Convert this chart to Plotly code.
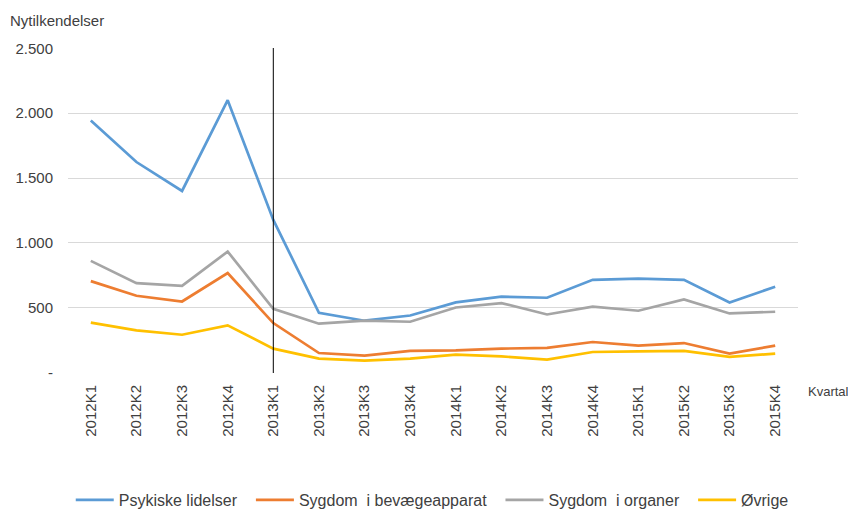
import plotly.graph_objects as go

kvartaler = ["2012K1", "2012K2", "2012K3", "2012K4",
             "2013K1", "2013K2", "2013K3", "2013K4",
             "2014K1", "2014K2", "2014K3", "2014K4",
             "2015K1", "2015K2", "2015K3", "2015K4"]

psykiske = [1943, 1623, 1400, 2100, 1177, 461, 400, 440,
            541, 585, 577, 715, 725, 715, 541, 662]
bevaege = [705, 592, 548, 767, 382, 151, 131, 167,
           172, 185, 190, 236, 208, 228, 146, 208]
organer = [861, 690, 669, 933, 492, 377, 400, 392,
           502, 536, 448, 508, 477, 564, 456, 469]
ovrige = [385, 325, 292, 364, 185, 108, 92, 108,
          138, 125, 100, 159, 164, 167, 121, 146]

y_ticks = [0, 500, 1000, 1500, 2000, 2500]
y_labels = ["-", "500", "1.000", "1.500", "2.000", "2.500"]

fig = go.Figure()

pad = "\u00a0" * 2
serier = [("Psykiske lidelser" + pad, psykiske, "#5B9BD5"),
          ("Sygdom  i bevægeapparat" + pad, bevaege, "#ED7D31"),
          ("Sygdom  i organer" + pad, organer, "#A5A5A5"),
          ("Øvrige", ovrige, "#FFC000")]
for navn, y, farve in serier:
    fig.add_trace(go.Scatter(x=kvartaler, y=y, name=navn, mode="lines",
                             line=dict(color=farve, width=2.7)))

# lodret markering ved 2013K1
fig.add_shape(type="line", xref="x", yref="y", x0="2013K1", x1="2013K1",
              y0=-55, y1=2510, line=dict(color="black", width=1))

# siden har 8px body-margin, derfor lidt mindre figur
fig.update_layout(
    width=848, height=501,
    margin=dict(l=60, r=58, t=40, b=136, autoexpand=False),
    plot_bgcolor="white", paper_bgcolor="white",
    font=dict(family="Liberation Sans, Arial", size=15, color="#404040"),
    showlegend=True,
    legend=dict(orientation="h", x=0.074, xanchor="left", xref="container",
                y=0.018, yanchor="middle", yref="container", itemwidth=38,
                font=dict(size=16, color="#404040")),
    xaxis=dict(type="category", tickangle=-90, showgrid=False,
               range=[-0.5, 15.5], automargin=False, ticklabelstandoff=8,
               showline=False, ticks="", tickfont=dict(size=15)),
    yaxis=dict(range=[-3, 2502], tickvals=y_ticks, ticktext=y_labels,
               gridcolor="#D9D9D9", gridwidth=1, zeroline=False,
               automargin=False, ticklabelstandoff=14,
               showline=False, ticks="", tickfont=dict(size=15)),
    annotations=[
        dict(text="Nytilkendelser", xref="paper", yref="paper",
             x=-0.082, y=1.084, xanchor="left", yanchor="middle",
             showarrow=False, font=dict(size=15, color="#404040")),
        dict(text="Kvartal", xref="paper", yref="paper",
             x=1.0726, y=-0.057, xanchor="right", yanchor="middle",
             showarrow=False, font=dict(size=13, color="#404040")),
    ],
)

fig.write_html("out.html")
